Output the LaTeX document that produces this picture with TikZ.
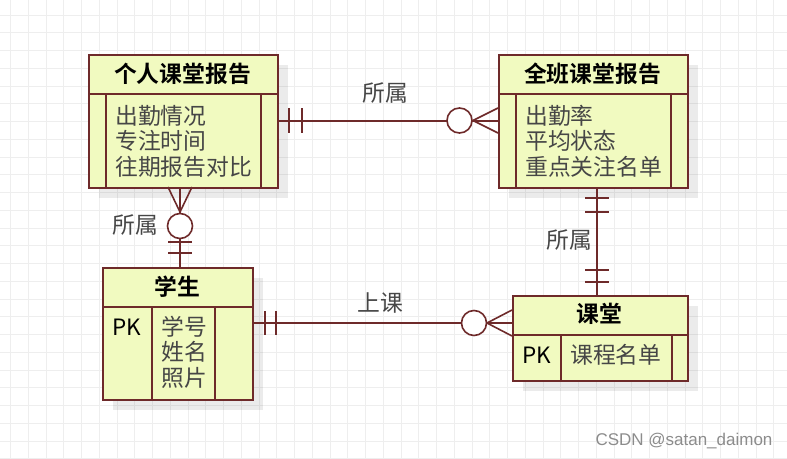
\documentclass[tikz,border=0pt]{standalone}
\usepackage{fontspec}
\setmainfont{Liberation Sans}
\newfontfamily\cjk{Noto Sans CJK SC}[BoldFont={Noto Sans CJK SC Bold}]
\usetikzlibrary{shadows,calc}
\definecolor{bord}{RGB}{110,42,42}
\definecolor{fillc}{RGB}{241,250,192}
\definecolor{txt}{RGB}{70,70,70}
\definecolor{gridc}{RGB}{238,238,238}
\tikzset{
  ent/.style={draw=bord, fill=fillc, line width=1.5pt, inner sep=0pt, anchor=north west,
    drop shadow={shadow xshift=10pt, shadow yshift=-10pt, opacity=0.08, fill=black}},
  sep/.style={draw=bord, line width=1.5pt},
  conn/.style={draw=bord, line width=1.6pt},
  ring/.style={draw=bord, fill=white, line width=1.6pt},
  head/.style={font=\cjk\bfseries\fontsize{22.8}{26}\selectfont, text=black, inner sep=0pt},
  body/.style={font=\cjk\fontsize{22.8}{25.5}\selectfont, text=txt, align=left, inner sep=0pt, anchor=west},
  pk/.style={font=\cjk\fontsize{22.5}{25}\selectfont, text=black, inner sep=0pt},
  lbl/.style={font=\cjk\fontsize{22.8}{26}\selectfont, text=txt, inner sep=0pt},
}
\begin{document}
\begin{tikzpicture}[x=1pt,y=-1pt]
\useasboundingbox (0,0) rectangle (787,458);
\fill[white] (0,0) rectangle (787,458);
% grid
\foreach \i in {0,...,44} \draw[gridc, line width=1pt] ({10.5+17.75*\i},0) -- ({10.5+17.75*\i},458);
\foreach \j in {0,...,25} \draw[gridc, line width=1pt] (0,{15+17.75*\j}) -- (787,{15+17.75*\j});

% entity boxes
\node[ent, minimum width=189pt, minimum height=133pt] (b1) at (88,54) {};
\node[ent, minimum width=189pt, minimum height=133pt] (b2) at (498,54) {};
\node[ent, minimum width=150pt, minimum height=132pt] (b3) at (102,267) {};
\node[ent, minimum width=175pt, minimum height=85pt] (b4) at (512,295) {};

% internal separators
\draw[sep] (b1.west |- 0,94) -- (b1.east |- 0,94);
\draw[sep] (106,94) -- (106,0 |- b1.south);
\draw[sep] (261,94) -- (261,0 |- b1.south);
\draw[sep] (b2.west |- 0,94) -- (b2.east |- 0,94);
\draw[sep] (516,94) -- (516,0 |- b2.south);
\draw[sep] (671,94) -- (671,0 |- b2.south);
\draw[sep] (b3.west |- 0,307) -- (b3.east |- 0,307);
\draw[sep] (152,307) -- (152,0 |- b3.south);
\draw[sep] (215,307) -- (215,0 |- b3.south);
\draw[sep] (b4.west |- 0,335) -- (b4.east |- 0,335);
\draw[sep] (561,335) -- (561,0 |- b4.south);
\draw[sep] (672,335) -- (672,0 |- b4.south);

% texts
\node[head] (h1) at (182.5,74) {个人课堂报告};
\node[body] (t1) at (115,141) {出勤情况\\专注时间\\往期报告对比};
\node[head] (h2) at (592.5,74) {全班课堂报告};
\node[body] (t2) at (525,141) {出勤率\\平均状态\\重点关注名单};
\node[head] (h3) at (177,287) {学生};
\node[pk] (p3) at (126.5,327) {PK};
\node[body] (t3) at (161,352) {学号\\姓名\\照片};
\node[head] (h4) at (599.5,314) {课堂};
\node[pk] (p4) at (537,355) {PK};
\node[body] (t4) at (570,355) {课程名单};

% connectors
\coordinate (k2) at (180,0);
\coordinate (k3) at (597,0);
\coordinate (k4) at (0,323);

% 1: b1 -- b2
\draw[conn] (b1.east) -- (b2.west);
\draw[conn] (289,108) -- (289,133);
\draw[conn] (302,108) -- (302,133);
\draw[conn] (473,120.5) -- (498,108);
\draw[conn] (473,120.5) -- (498,133);
\draw[ring] (459.5,120.5) circle (12.5pt);
\node[lbl] (l1) at (385,93) {所属};

% 2: b1 -- b3
\draw[conn] (b1.south -| k2) -- (b3.north -| k2);
\draw[conn] (168,187) -- (180,212);
\draw[conn] (192,187) -- (180,212);
\draw[ring] (180,226) circle (12.5pt);
\draw[conn] (168,242) -- (192,242);
\draw[conn] (168,253) -- (192,253);
\node[lbl] (l2) at (135,225) {所属};

% 3: b2 -- b4
\draw[conn] (b2.south -| k3) -- (b4.north -| k3);
\draw[conn] (585,198) -- (609,198);
\draw[conn] (585,212) -- (609,212);
\draw[conn] (585,270) -- (609,270);
\draw[conn] (585,282) -- (609,282);
\node[lbl] (l3) at (569,240) {所属};

% 4: b3 -- b4
\draw[conn] (b3.east |- k4) -- (b4.west |- k4);
\draw[conn] (265,311) -- (265,335);
\draw[conn] (276,311) -- (276,335);
\draw[conn] (487,323) -- (512,310);
\draw[conn] (487,323) -- (512,336);
\draw[ring] (474,323) circle (12.5pt);
\node[lbl] (l4) at (380,303) {上课};

% watermark
\node[font=\fontsize{17}{19}\selectfont, text=black!45, inner sep=0pt] (wm) at (684,441) {CSDN @satan\_daimon};
\end{tikzpicture}
\end{document}
